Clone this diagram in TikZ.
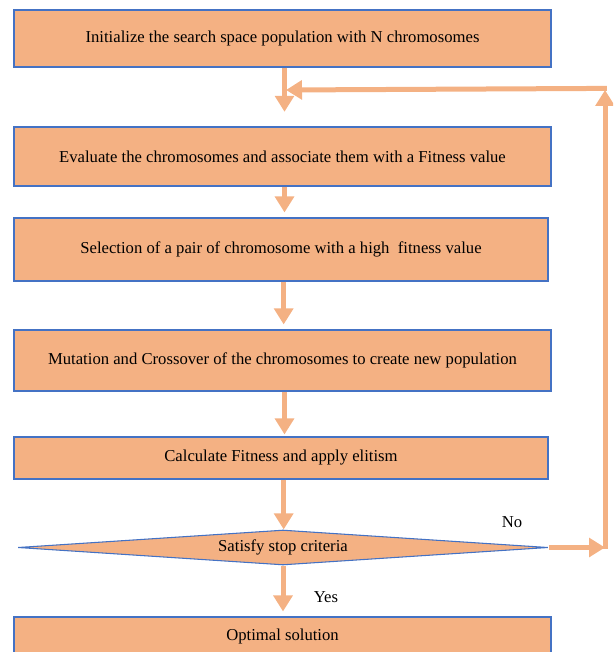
\documentclass[tikz,border=0pt]{standalone}
\usepackage{fontspec}
\setmainfont{Liberation Serif}
\usetikzlibrary{arrows.meta}
\usetikzlibrary{shapes.geometric}
\definecolor{stepfill}{RGB}{244,177,131}
\definecolor{stepline}{RGB}{68,114,196}
\tikzset{
  stepbox/.style={
    rectangle, draw=stepline, fill=stepfill, line width=0.8pt,
    inner sep=0, minimum width=402.75pt, text=black,
    font=\fontsize{12.5}{14}\selectfont
  },
  decision/.style={
    diamond, aspect=15, draw=stepline, fill=stepfill, line width=0.8pt,
    inner sep=0, minimum width=397.5pt, minimum height=26.25pt, text=black,
    font=\fontsize{12.5}{14}\selectfont
  },
  flow/.style={draw=stepfill, line width=3.75pt,
    -{Triangle[width=14pt,length=12pt]}},
  answer/.style={text=black, font=\fontsize{12.5}{14}\selectfont}
}

\begin{document}
\begin{tikzpicture}[x=0.75pt, y=-0.75pt]
  \clip (0,0) rectangle (613,652);
  % steps
  \node[stepbox, minimum height=42.75pt] (init) at (282.5,38.5)
    {Initialize the search space population with N chromosomes};
  \node[stepbox, minimum height=44.25pt] (eval) at (282.5,156.5)
    {Evaluate the chromosomes and associate them with a Fitness value};
  \node[stepbox, minimum height=47.25pt, minimum width=400.5pt] (select) at (281,249.5)
    {Selection of a pair of chromosome with a high\ \ fitness value};
  \node[stepbox, minimum height=45.75pt] (mutate) at (282.5,360.5)
    {Mutation and Crossover of the chromosomes to create new population};
  \node[stepbox, minimum height=31.5pt, minimum width=400.5pt] (elite) at (281,458)
    {Calculate Fitness and apply elitism};
  \node[decision] (stop) at (283,547.5) {Satisfy stop criteria};
  \node[stepbox, minimum height=28.5pt] (optimum) at (282.5,636)
    {Optimal solution};
  % answers
  \node[answer] (no) at (512,522) {No};
  \node[answer] (yes) at (326,597) {Yes};
  % loop corners
  \coordinate (loopdown) at (605,547.5);
  \coordinate (loopup) at (605,90);
  \coordinate (loopjoin) at (286,90);
  % connectors
  \draw[flow, shorten >=11pt] ([xshift=1.5pt]init.south) -- ([xshift=1.5pt]init.south |- eval.north);
  \draw[flow, shorten >=3.75pt] ([xshift=1.5pt]eval.south) -- ([xshift=1.5pt]eval.south |- select.north);
  \draw[flow, shorten >=3.75pt] ([xshift=2pt]select.south) -- ([xshift=2pt]select.south |- mutate.north);
  \draw[flow, shorten >=1.5pt] ([xshift=1.5pt]mutate.south) -- ([xshift=1.5pt]mutate.south |- elite.north);
  \draw[flow] ([xshift=2pt]elite.south) -- ([xshift=2pt]elite.south |- stop.north);
  \draw[flow, shorten >=3.75pt] (stop.south) -- (stop.south |- optimum.north);
  \draw[flow] (stop.east) -- (loopdown);
  \draw[flow] ([yshift=-1pt]loopdown) -- (loopup);
  \draw[flow] ([xshift=1.4pt, yshift=1.2pt]loopup) -- (loopjoin);
\end{tikzpicture}
\end{document}
